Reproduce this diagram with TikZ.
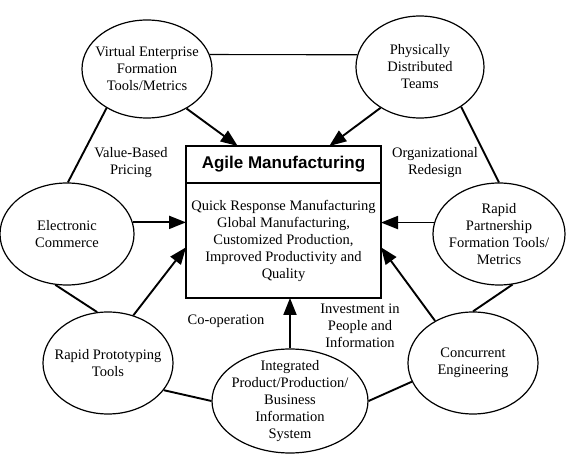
\documentclass[tikz,border=0pt]{standalone}
\usepackage{fontspec}
\setmainfont{Liberation Serif}
\setsansfont{Liberation Sans}
\usetikzlibrary{shapes.geometric, arrows.meta, positioning}

\tikzset{
  bubble/.style={draw, ellipse, line width=1.2pt, inner sep=-10pt, align=center, minimum width=130pt, minimum height=102pt},
  link/.style={line width=1.9pt},
  arr/.style={line width=1.9pt, -{Triangle[length=17pt, width=13pt]}},
  lbl/.style={align=center}
}

\begin{document}
\begin{tikzpicture}[x=1pt, y=-1pt, font=\fontsize{14.5}{17}\selectfont]
  \useasboundingbox (0,0) rectangle (571,470);

  % Central box
  \node[draw, line width=1.9pt, outer sep=0pt, minimum width=195pt, minimum height=37pt, font=\sffamily\bfseries\fontsize{17}{20}\selectfont] (title) at (283.5,164.5) {Agile Manufacturing};
  \node[draw, line width=1.9pt, outer sep=0pt, minimum width=195pt, minimum height=115pt, align=center, below=0pt of title] (body) {Quick Response Manufacturing\\Global Manufacturing,\\Customized Production,\\Improved Productivity and\\Quality};

  % Bubbles
  \node[bubble, minimum height=98pt] (ve) at (147,69) {Virtual Enterprise\\Formation\\Tools/Metrics};
  \node[bubble, minimum width=128pt] (pdt) at (420,67) {Physically\\Distributed\\Teams};
  \node[bubble, minimum width=134pt] (ec) at (67,234) {Electronic\\Commerce};
  \node[bubble, minimum width=132pt] (rpf) at (499,234) {Rapid\\Partnership\\Formation Tools/\\Metrics};
  \node[bubble] (rpt) at (108,363) {Rapid Prototyping\\Tools};
  \node[bubble, minimum width=156pt, minimum height=104pt] (ipp) at (290,401) {Integrated\\Product/Production/\\Business\\Information\\System};
  \node[bubble] (ce) at (473,363) {Concurrent\\Engineering};

  % Ring of links
  \draw[line width=1.1pt] (ve.13) -- (pdt.169);
  \draw[link] (ve.224) -- (ec.89);
  \draw[link] (pdt.316) -- (rpf.north);
  \draw[link] (ec.257) -- (rpt.102);
  \draw[link] (rpt.334) -- (ipp.west);
  \draw[link] (ipp.east) -- (ce.197);
  \draw[link] (ce.north) -- (rpf.285);

  % Arrows into the box
  \draw[arr] (ve.315) -- (title.158);
  \draw[arr] (pdt.226) -- (title.22);
  \draw[arr] (ec.10) -- (ec.10 -| body.west);
  \draw[arr] (rpf.170) -- (rpf.170 -| body.east);
  \draw[arr] (rpt.62) -- (body.184);
  \draw[arr] (ce.132) -- (body.356);
  \draw[arr] (ipp.north) -- (ipp.north |- body.south);

  % Labels
  \node[lbl] (pricing) at (131,163) {Value-Based\\Pricing};
  \node[lbl] (redesign) at (435,163) {Organizational\\Redesign};
  \node[lbl] (coop) at (226,321) {Co-operation};
  \node[lbl] (invest) at (360,326) {Investment in\\People and\\Information};
\end{tikzpicture}
\end{document}
